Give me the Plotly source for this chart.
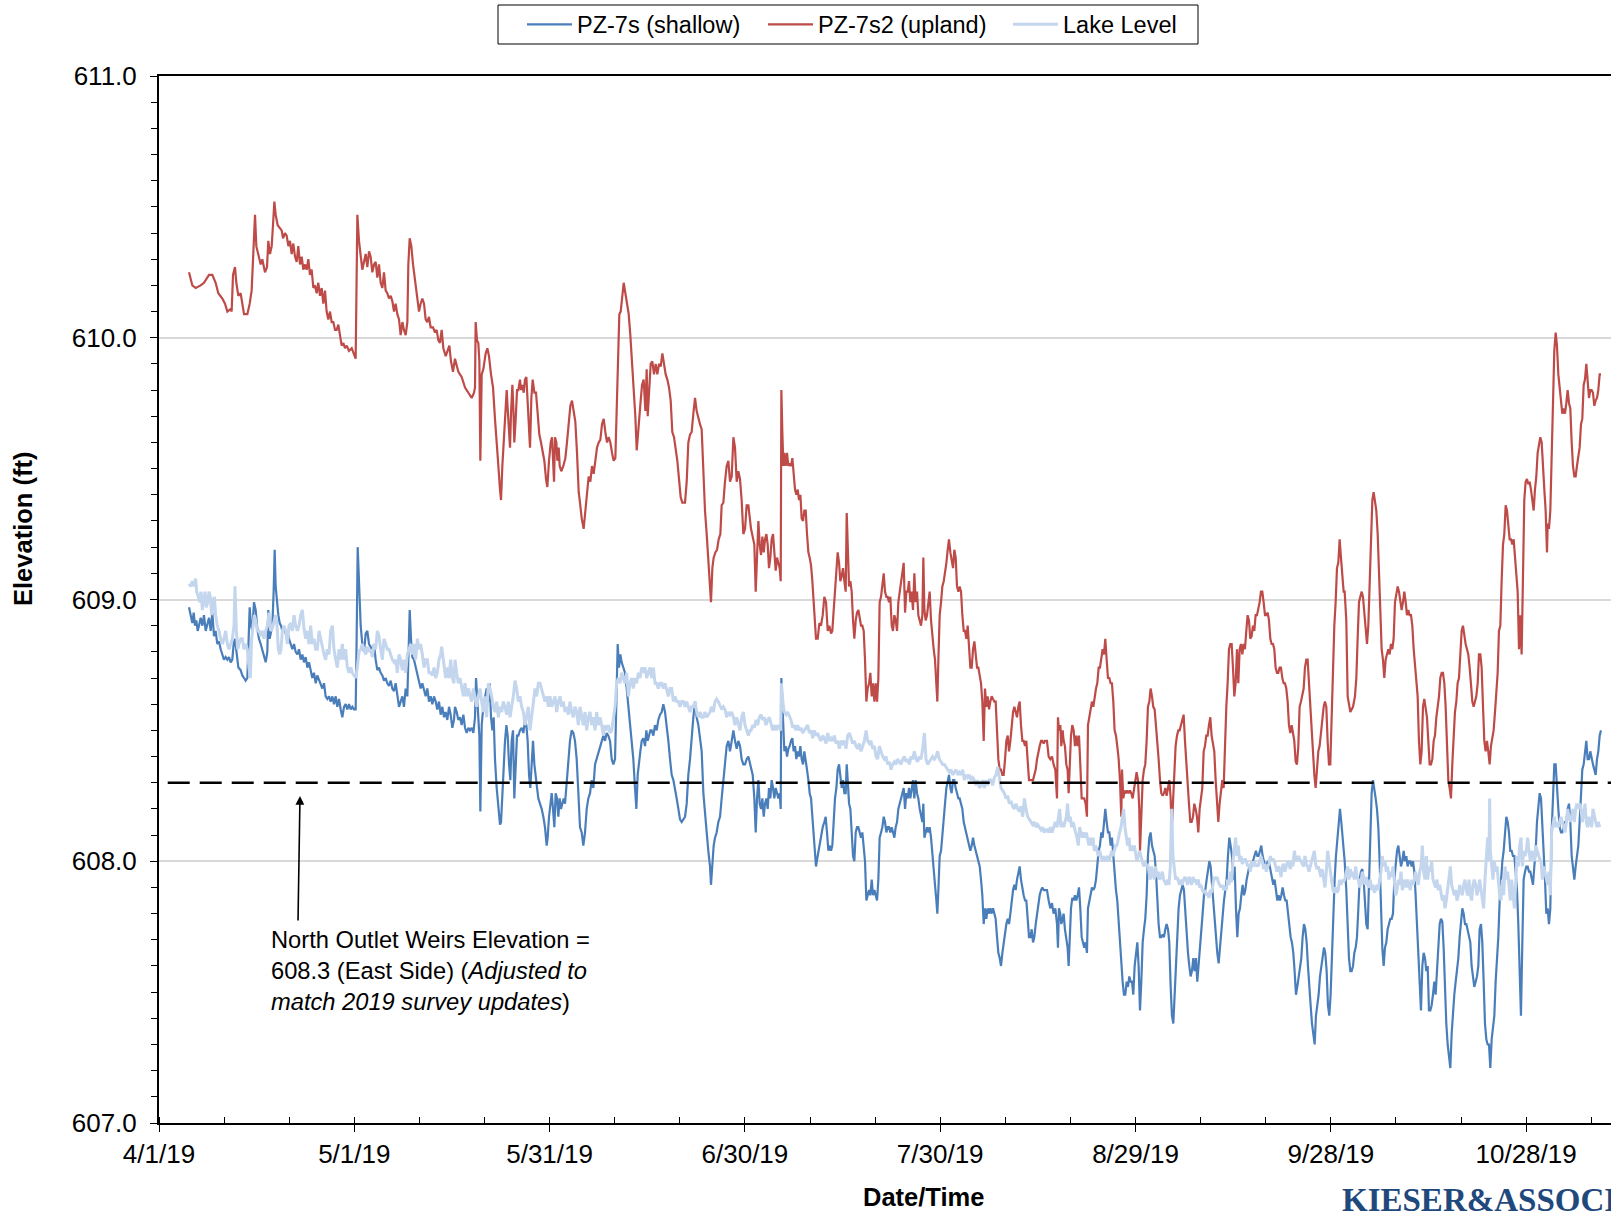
import pandas as pd
import plotly.graph_objects as go

# ---------------- data (days since 4/1/19, elevation ft) ----------------
START = "2019-04-01"

pz7s2_upland = [
(4.61,610.25),(5.12,610.20),(5.63,610.19),(6.40,610.20),(6.91,610.21),(7.68,610.24),(8.19,610.24),(8.70,610.21),(9.11,610.17),(9.73,610.15),(10.14,610.13),(10.50,610.10),(11.01,610.11),(11.16,610.10),(11.37,610.24),(11.67,610.27),(11.88,610.21),(12.19,610.16),(12.54,610.17),(13.06,610.09),(13.57,610.09),(13.93,610.13),(14.23,610.18),(14.49,610.30),(14.75,610.47),(14.95,610.35),(15.36,610.31),(15.62,610.28),(15.87,610.30),(16.28,610.25),(16.59,610.27),(16.79,610.37),(17.05,610.32),(17.31,610.35),(17.51,610.43),(17.72,610.52),(17.92,610.47),(18.23,610.43),(18.54,610.42),(18.84,610.41),(19.05,610.38),(19.35,610.40),(19.61,610.39),(19.87,610.35),(20.12,610.37),(20.38,610.32),(20.63,610.36),(20.89,610.31),(21.15,610.29),(21.40,610.35),(21.66,610.28),(21.92,610.31),(22.17,610.26),(22.43,610.28),(22.68,610.26),(22.94,610.30),(23.19,610.24),(23.45,610.26),(23.71,610.19),(23.96,610.20),(24.22,610.17),(24.47,610.21),(24.73,610.16),(24.99,610.19),(25.24,610.13),(25.50,610.18),(25.75,610.10),(26.01,610.07),(26.27,610.10),(26.52,610.06),(26.78,610.06),(27.04,610.03),(27.29,610.03),(27.55,610.05),(27.80,610.01),(28.06,609.97),(28.32,609.98),(28.57,609.96),(28.83,609.97),(29.19,609.95),(29.60,609.96),(29.85,609.94),(30.21,609.92),(30.31,610.13),(30.47,610.47),(30.72,610.37),(30.98,610.30),(31.23,610.26),(31.49,610.29),(31.75,610.32),(32.00,610.27),(32.26,610.33),(32.51,610.31),(32.77,610.25),(33.03,610.28),(33.28,610.29),(33.54,610.23),(33.79,610.28),(34.05,610.21),(34.31,610.19),(34.56,610.25),(34.82,610.18),(35.07,610.17),(35.33,610.15),(35.59,610.16),(35.84,610.14),(36.10,610.10),(36.35,610.13),(36.61,610.09),(36.87,610.07),(37.12,610.01),(37.38,610.06),(37.63,610.03),(37.89,610.01),(38.15,610.06),(38.30,610.28),(38.51,610.38),(38.76,610.35),(39.02,610.28),(39.22,610.24),(39.43,610.21),(39.68,610.17),(39.94,610.10),(40.19,610.13),(40.45,610.15),(40.71,610.13),(40.96,610.07),(41.22,610.06),(41.47,610.08),(41.73,610.04),(42.09,610.04),(42.40,610.02),(42.65,610.03),(42.91,609.99),(43.16,609.98),(43.42,610.03),(43.68,609.96),(44.04,609.93),(44.34,609.95),(44.60,609.97),(44.85,609.91),(45.16,609.87),
(45.47,609.92),(45.98,609.87),(46.49,609.85),(47.01,609.81),(47.52,609.79),(48.03,609.77),(48.39,609.79),(48.54,609.81),(48.64,610.06),(48.85,609.99),(49.05,609.98),(49.21,609.91),(49.36,609.53),(49.57,609.86),(49.82,609.88),(50.18,609.94),(50.44,609.96),(50.69,609.93),(51.00,609.86),(51.31,609.81),(51.61,609.69),(51.87,609.58),(52.13,609.51),(52.38,609.42),(52.54,609.38),(52.74,609.51),(53.05,609.64),(53.25,609.77),(53.41,609.80),(53.56,609.73),(53.77,609.62),(53.92,609.58),(54.07,609.71),(54.28,609.82),(54.43,609.73),(54.58,609.60),(54.79,609.69),(55.00,609.80),(55.20,609.80),(55.45,609.84),(55.61,609.80),(55.81,609.82),(56.02,609.79),(56.22,609.84),(56.43,609.85),(56.58,609.77),(56.79,609.66),(56.99,609.58),(57.20,609.77),(57.40,609.84),(57.66,609.79),(57.91,609.79),(58.17,609.71),(58.42,609.63),(58.68,609.60),(58.94,609.57),(59.19,609.53),(59.45,609.46),(59.65,609.43),(59.91,609.53),(60.17,609.60),(60.37,609.62),(60.52,609.52),(60.68,609.45),(60.83,609.62),(61.04,609.60),(61.19,609.53),(61.40,609.58),(61.55,609.51),(61.80,609.49),(62.11,609.51),(62.42,609.54),(62.67,609.60),(62.93,609.68),(63.19,609.74),(63.44,609.76),(63.70,609.72),(63.95,609.68),(64.21,609.56),(64.47,609.41),(64.67,609.37),(64.93,609.31),(65.23,609.27),(65.49,609.34),(65.75,609.42),(66.00,609.47),(66.26,609.45),(66.51,609.51),(66.77,609.48),(67.03,609.53),(67.28,609.58),(67.54,609.60),(67.79,609.61),(68.05,609.67),(68.31,609.69),(68.56,609.64),(68.82,609.60),(69.07,609.62),(69.33,609.60),(69.59,609.56),(69.84,609.53),(70.10,609.54),(70.30,609.73),(70.51,609.91),(70.71,610.09),(70.92,610.10),(71.12,610.16),(71.38,610.21),(71.64,610.17),(71.89,610.13),(72.15,610.09),(72.40,610.01),(72.66,609.91),(72.91,609.81),(73.17,609.70),(73.38,609.57),(73.58,609.64),(73.79,609.73),(73.99,609.76),(74.20,609.82),(74.45,609.84),(74.71,609.72),(74.91,609.88),(75.07,609.70),(75.27,609.77),(75.53,609.90),(75.78,609.91),(76.04,609.86),(76.29,609.90),(76.55,609.86),(76.81,609.90),(77.06,609.89),(77.32,609.94),(77.57,609.90),(77.83,609.86),(78.09,609.84),(78.34,609.81),(78.60,609.76),(78.85,609.64),(79.11,609.62),(79.37,609.58),(79.62,609.53),(79.88,609.46),(80.14,609.39),(80.39,609.37),(80.80,609.37),(81.06,609.45),(81.31,609.60),(81.57,609.63),(81.82,609.64),(82.08,609.71),(82.34,609.77),(82.59,609.72),(82.85,609.69),(83.10,609.67),(83.36,609.65),(83.62,609.47),(83.87,609.34),(84.13,609.25),(84.38,609.14),(84.59,609.07),(84.79,608.99),(85.00,609.12),(85.20,609.16),(85.46,609.18),(85.72,609.19),(85.97,609.23),(86.23,609.25),(86.43,609.36),(86.69,609.37),(86.94,609.45),(87.20,609.51),(87.46,609.53),(87.71,609.45),(87.97,609.47),(88.23,609.62),(88.48,609.58),(88.74,609.45),(88.99,609.49),(89.25,609.46),(89.50,609.38),(89.76,609.25),(90.02,609.27),(90.27,609.36),(90.53,609.36),(90.78,609.29),
(90.94,609.27),(91.45,609.21),(91.66,609.03),(91.86,609.16),(92.07,609.30),(92.27,609.21),(92.48,609.17),(92.68,609.24),(92.89,609.18),(93.09,609.23),(93.30,609.25),(93.50,609.21),(93.70,609.12),(93.91,609.16),(94.11,609.23),(94.32,609.25),(94.52,609.16),(94.73,609.11),(94.93,609.16),(95.14,609.14),(95.34,609.12),(95.50,609.07),(95.60,609.80),(95.75,609.64),(95.91,609.51),(96.06,609.56),(96.27,609.51),(96.47,609.56),(96.67,609.51),(96.88,609.52),(97.08,609.51),(97.29,609.54),(97.49,609.49),(97.70,609.42),(97.90,609.40),(98.11,609.42),(98.31,609.38),(98.52,609.40),(98.72,609.31),(98.93,609.30),(99.13,609.34),(99.34,609.34),(99.54,609.25),(99.75,609.18),(99.95,609.16),(100.16,609.13),(100.36,609.07),(100.57,608.99),(100.77,608.90),(100.92,608.85),(101.18,608.85),(101.44,608.91),(101.69,608.90),(101.95,608.94),(102.20,609.01),(102.46,608.99),(102.72,608.88),(102.97,608.90),(103.23,608.87),(103.43,608.88),(103.64,608.96),(103.84,609.03),(104.05,609.07),(104.25,609.18),(104.46,609.14),(104.66,609.07),(104.87,609.09),(105.07,609.12),(105.28,609.07),(105.48,609.03),(105.64,609.33),(105.79,609.18),(106.00,609.05),(106.20,609.07),(106.40,609.03),(106.61,608.92),(106.81,608.85),(107.02,608.92),(107.22,608.95),(107.43,608.96),(107.63,608.92),(107.84,608.90),(108.04,608.90),(108.25,608.88),(108.45,608.77),(108.66,608.61),(108.86,608.66),(109.07,608.68),(109.27,608.72),(109.48,608.63),(109.68,608.68),(109.89,608.61),(110.09,608.68),(110.30,608.61),(110.50,608.70),(110.70,608.99),(110.91,609.01),(111.11,609.05),(111.32,609.10),(111.52,609.03),(111.73,609.01),(111.93,609.01),(112.14,608.99),(112.34,609.01),(112.55,608.90),(112.75,608.88),(112.96,608.94),(113.16,608.92),(113.37,608.88),(113.57,608.99),(113.78,609.03),(113.98,609.07),(114.19,609.10),(114.39,609.14),(114.60,608.95),(114.80,609.03),(115.01,609.03),(115.21,609.07),(115.41,608.99),(115.62,609.03),(115.82,608.96),(116.03,609.10),(116.23,608.99),(116.44,609.03),(116.64,608.94),(116.85,608.92),(117.05,608.90),(117.26,608.94),(117.41,609.16),(117.57,608.96),(117.77,608.92),(117.97,608.94),(118.18,608.99),(118.38,609.03),(118.59,608.92),(118.79,608.85),(119.00,608.81),(119.20,608.77),(119.41,608.68),(119.56,608.61),(119.72,608.77),(119.92,608.94),(120.13,608.99),(120.33,609.05),(120.54,609.07),(120.74,609.10),(120.95,609.14),(121.15,609.19),(121.35,609.23),(121.56,609.18),(121.76,609.14),(121.97,609.12),(122.17,609.19),(122.38,609.16),(122.58,609.05),(122.79,609.03),(122.99,609.05),(123.20,609.03),(123.40,608.94),(123.61,608.88),(123.81,608.88),(124.02,608.85),(124.22,608.90),(124.43,608.83),(124.63,608.74),(124.84,608.74),(125.04,608.81),(125.25,608.84),(125.45,608.79),(125.66,608.74),(125.86,608.74),(126.07,608.71),(126.27,608.68),(126.47,608.61),(126.68,608.46),(126.88,608.66),(127.09,608.59),(127.29,608.63),(127.50,608.58),(127.70,608.61),(127.91,608.63),(128.11,608.62),(128.32,608.61),(128.52,608.61),(128.73,608.46),(128.93,608.39),(129.14,608.35),(129.34,608.35),(129.55,608.33),(129.75,608.33),(129.96,608.39),(130.16,608.46),(130.37,608.48),(130.57,608.42),(130.78,608.46),(130.98,608.52),(131.19,608.57),(131.39,608.59),(131.59,608.57),(131.80,608.55),(132.00,608.59),(132.21,608.61),(132.41,608.52),(132.62,608.46),(132.82,608.46),(133.03,608.44),(133.23,608.46),(133.44,608.37),(133.64,608.31),(133.85,608.31),(134.05,608.31),(134.26,608.31),(134.46,608.33),(134.67,608.35),(134.87,608.39),(135.08,608.42),(135.28,608.44),(135.49,608.46),(135.69,608.46),(135.90,608.45),(136.10,608.46),
(136.40,608.46),(136.66,608.40),(136.91,608.39),(137.17,608.40),(137.42,608.37),(137.68,608.35),(137.94,608.24),(138.09,608.55),(138.24,608.50),(138.45,608.52),(138.60,608.44),(138.81,608.50),(138.96,608.46),(139.16,608.44),(139.37,608.37),(139.57,608.35),(139.73,608.26),(139.88,608.39),(140.09,608.48),(140.29,608.52),(140.50,608.50),(140.70,608.44),(140.91,608.48),(141.11,608.44),(141.32,608.48),(141.52,608.37),(141.73,608.24),(141.93,608.24),(142.13,608.24),(142.34,608.22),(142.54,608.17),(142.70,608.52),(142.90,608.55),(143.11,608.57),(143.31,608.61),(143.52,608.59),(143.72,608.63),(143.93,608.66),(144.13,608.68),(144.34,608.74),(144.54,608.74),(144.75,608.77),(144.95,608.81),(145.16,608.79),(145.36,608.85),(145.57,608.77),(145.77,608.70),(145.98,608.70),(146.18,608.68),(146.38,608.68),(146.59,608.61),(146.79,608.50),(147.00,608.48),(147.20,608.44),(147.41,608.39),(147.61,608.31),(147.82,608.17),(147.92,608.35),(148.13,608.24),(148.33,608.27),(148.54,608.26),(148.74,608.27),(148.94,608.26),(149.15,608.27),(149.35,608.26),(149.56,608.24),(149.76,608.28),(149.97,608.32),(150.17,608.34),(150.38,608.31),(150.58,608.20),(150.69,608.04),(150.89,608.17),(151.10,608.31),(151.30,608.35),(151.50,608.37),(151.71,608.46),(151.91,608.59),(152.12,608.61),(152.32,608.66),(152.53,608.63),(152.73,608.59),(152.94,608.58),(153.14,608.52),(153.35,608.48),(153.55,608.39),(153.76,608.31),(153.96,608.26),(154.17,608.25),(154.37,608.26),(154.58,608.28),(154.78,608.25),(154.99,608.28),(155.19,608.31),(155.40,608.24),(155.55,608.11),(155.75,608.22),(155.96,608.37),(156.16,608.44),(156.37,608.48),(156.57,608.50),(156.78,608.50),(156.98,608.52),(157.19,608.55),(157.39,608.56),(157.60,608.46),(157.80,608.37),(158.01,608.31),(158.21,608.22),(158.42,608.15),(158.62,608.15),(158.83,608.17),(159.03,608.22),(159.24,608.20),(159.44,608.17),(159.65,608.11),(159.85,608.20),(160.06,608.24),(160.26,608.28),(160.47,608.42),(160.67,608.44),(160.87,608.48),(161.08,608.48),(161.28,608.52),(161.49,608.55),(161.69,608.48),(161.90,608.44),(162.10,608.42),(162.31,608.31),(162.51,608.24),(162.72,608.15),(162.92,608.22),(163.13,608.26),(163.33,608.31),(163.54,608.28),(163.74,608.46),(163.95,608.59),(164.15,608.68),(164.36,608.81),(164.56,608.83),(164.77,608.83),(164.97,608.74),(165.18,608.63),(165.38,608.68),(165.59,608.81),(165.79,608.68),(166.00,608.81),(166.20,608.83),(166.41,608.79),(166.61,608.83),(166.81,608.81),(167.02,608.88),(167.22,608.94),(167.43,608.92),(167.63,608.85),(167.84,608.86),(168.04,608.90),(168.25,608.88),(168.45,608.94),(168.66,608.94),(168.86,608.96),(169.07,608.99),(169.27,609.03),(169.48,609.03),(169.68,608.99),(169.89,608.94),(170.09,608.94),(170.30,608.95),(170.50,608.92),(170.71,608.85),(170.91,608.83),(171.12,608.83),(171.32,608.81),(171.52,608.74),(171.73,608.72),(171.93,608.72),(172.14,608.74),(172.34,608.74),(172.55,608.70),(172.75,608.68),(172.96,608.68),(173.16,608.66),(173.37,608.61),(173.57,608.52),(173.78,608.49),(173.98,608.52),(174.19,608.49),(174.39,608.46),(174.60,608.38),(174.80,608.37),(175.01,608.44),(175.21,608.59),(175.42,608.61),(175.62,608.63),(175.83,608.66),(176.03,608.74),(176.24,608.77),(176.44,608.77),(176.65,608.68),(176.85,608.55),(177.06,608.48),(177.26,608.42),(177.47,608.33),(177.67,608.28),(177.88,608.37),(178.08,608.42),(178.28,608.44),(178.49,608.50),(178.69,608.55),(178.90,608.59),(179.10,608.61),(179.31,608.59),(179.51,608.46),(179.72,608.37),(179.92,608.37),(180.13,608.55),(180.33,608.77),(180.54,608.90),(180.74,608.99),(180.95,609.12),(181.15,609.14),(181.36,609.23),(181.56,609.16),(181.77,609.07),(181.97,609.03),
(182.13,609.03),(182.38,608.92),(182.59,608.63),(182.79,608.59),(183.00,608.57),(183.20,608.58),(183.41,608.59),(183.71,608.63),(183.92,608.70),(184.12,608.85),(184.33,608.99),(184.53,609.01),(184.74,609.03),(184.94,609.01),(185.15,608.94),(185.35,608.90),(185.56,608.83),(185.76,608.90),(185.97,609.07),(186.17,609.25),(186.38,609.38),(186.58,609.41),(186.79,609.38),(186.99,609.34),(187.20,609.25),(187.40,609.12),(187.60,608.94),(187.81,608.81),(188.01,608.77),(188.22,608.70),(188.42,608.77),(188.63,608.79),(188.83,608.81),(189.04,608.79),(189.24,608.83),(189.45,608.81),(189.65,608.85),(189.86,608.99),(190.06,609.03),(190.27,609.05),(190.47,609.03),(190.68,608.99),(190.88,608.96),(191.09,608.99),(191.29,609.03),(191.50,608.99),(191.70,608.94),(191.91,608.96),(192.11,608.94),(192.32,608.94),(192.52,608.90),(192.73,608.81),(192.93,608.74),(193.13,608.68),(193.34,608.63),(193.54,608.46),(193.75,608.37),(193.95,608.42),(194.16,608.59),(194.36,608.62),(194.57,608.57),(194.77,608.55),(194.98,608.46),(195.18,608.37),(195.39,608.37),(195.59,608.39),(195.80,608.46),(196.00,608.48),(196.21,608.55),(196.41,608.59),(196.62,608.63),(196.82,608.70),(197.03,608.72),(197.23,608.72),(197.44,608.68),(197.64,608.59),(197.85,608.46),(198.05,608.31),(198.25,608.28),(198.46,608.24),(198.66,608.37),(198.87,608.48),(199.07,608.57),(199.28,608.61),(199.48,608.68),(199.69,608.70),(199.89,608.79),(200.10,608.88),(200.30,608.90),(200.51,608.85),(200.71,608.83),(200.92,608.81),(201.12,608.79),(201.33,608.74),(201.53,608.68),(201.74,608.61),(201.94,608.59),(202.15,608.61),(202.35,608.63),(202.56,608.68),(202.76,608.79),(202.97,608.79),(203.17,608.74),(203.38,608.59),(203.58,608.46),(203.78,608.42),(203.99,608.46),(204.19,608.42),(204.40,608.37),(204.60,608.44),(204.81,608.48),(205.01,608.50),(205.22,608.57),(205.42,608.63),(205.63,608.72),(205.83,608.88),(206.04,608.90),(206.24,609.07),(206.45,609.21),(206.65,609.25),(206.86,609.36),(207.06,609.34),(207.27,609.29),(207.47,609.23),(207.68,609.23),(207.88,609.21),(208.09,609.23),(208.29,609.16),(208.50,609.07),(208.70,609.03),(208.91,608.81),(209.11,608.94),(209.31,608.79),(209.52,609.14),(209.72,609.38),(209.93,609.45),(210.13,609.46),(210.34,609.44),(210.54,609.45),(210.75,609.42),(210.95,609.37),(211.16,609.34),(211.36,609.42),(211.57,609.47),(211.77,609.56),(211.98,609.60),(212.18,609.62),(212.39,609.60),(212.59,609.53),(212.80,609.42),(213.00,609.34),(213.21,609.18),(213.31,609.29),(213.51,609.27),(213.72,609.34),(213.92,609.53),(214.13,609.80),(214.33,609.95),(214.54,610.02),(214.74,609.97),(214.95,609.86),(215.15,609.80),(215.36,609.75),(215.56,609.71),(215.77,609.73),(215.97,609.71),(216.18,609.75),(216.38,609.80),(216.59,609.75),(216.79,609.73),(217.00,609.60),(217.20,609.51),(217.41,609.47),(217.61,609.47),(217.81,609.51),(218.02,609.56),(218.22,609.58),(218.43,609.67),(218.63,609.69),(218.84,609.82),(219.04,609.84),(219.25,609.90),(219.45,609.84),(219.66,609.77),(219.86,609.80),(220.07,609.80),(220.27,609.79),(220.48,609.74),(220.68,609.76),(220.89,609.77),(221.09,609.80),(221.30,609.86),(221.50,609.86),
]

pz7s_shallow = [
(4.61,608.97),(4.86,608.94),(5.12,608.91),(5.33,608.95),(5.53,608.90),(5.73,608.92),(5.94,608.88),(6.14,608.90),(6.40,608.93),(6.66,608.90),(6.91,608.94),(7.17,608.88),(7.42,608.90),(7.68,608.93),(7.94,608.88),(8.19,608.95),(8.45,608.86),(8.70,608.88),(8.96,608.83),(9.22,608.84),(9.47,608.81),(9.73,608.79),(9.98,608.77),(10.24,608.78),(10.50,608.77),(10.75,608.78),(11.01,608.76),(11.26,608.77),(11.47,608.83),(11.67,608.85),(11.88,608.81),(12.19,608.74),(12.54,608.73),(12.80,608.71),(13.06,608.70),(13.31,608.69),(13.57,608.70),(13.72,608.85),(13.93,608.97),(14.13,608.90),(14.34,608.88),(14.59,608.99),(14.85,608.96),(15.10,608.89),(15.36,608.85),(15.62,608.83),(15.87,608.81),(16.13,608.78),(16.39,608.76),(16.64,608.80),(16.79,608.96),(17.00,608.85),(17.20,608.87),(17.41,608.90),(17.61,609.03),(17.77,609.19),(17.92,609.05),(18.13,608.99),(18.33,608.94),(18.54,608.91),(18.74,608.90),(18.95,608.88),(19.20,608.89),(19.46,608.87),(19.71,608.88),(19.97,608.85),(20.23,608.83),(20.48,608.81),(20.74,608.83),(20.99,608.80),(21.25,608.79),(21.51,608.81),(21.76,608.77),(22.02,608.79),(22.27,608.76),(22.53,608.78),(22.79,608.74),(23.04,608.76),(23.30,608.73),(23.55,608.70),(23.81,608.72),(24.07,608.68),(24.32,608.71),(24.58,608.69),(24.83,608.68),(25.09,608.66),(25.35,608.68),(25.60,608.63),(25.86,608.62),(26.11,608.63),(26.37,608.61),(26.63,608.63),(26.88,608.60),(27.14,608.63),(27.39,608.59),(27.65,608.62),(27.91,608.58),(28.16,608.55),(28.42,608.59),(28.67,608.60),(28.93,608.58),(29.19,608.60),(29.44,608.58),(29.70,608.59),(29.95,608.58),(30.21,608.58),(30.36,608.85),(30.52,609.20),(30.72,609.07),(30.98,608.90),(31.23,608.83),(31.49,608.80),(31.75,608.87),(32.00,608.88),(32.26,608.83),(32.51,608.82),(32.77,608.80),(33.03,608.83),(33.28,608.77),(33.54,608.73),(33.79,608.74),(34.05,608.72),(34.31,608.71),(34.56,608.69),(34.82,608.70),(35.07,608.68),(35.33,608.67),(35.59,608.69),(35.84,608.66),(36.10,608.65),(36.35,608.68),(36.61,608.63),(36.87,608.59),(37.12,608.61),(37.38,608.63),(37.63,608.59),(37.89,608.66),(38.15,608.63),(38.30,608.81),(38.51,608.96),(38.71,608.85),(38.91,608.78),(39.17,608.77),(39.43,608.74),(39.68,608.71),(39.94,608.68),(40.19,608.66),(40.45,608.68),(40.71,608.65),(40.96,608.63),(41.22,608.66),(41.47,608.61),(41.73,608.63),(41.99,608.60),(42.24,608.63),(42.50,608.61),(42.75,608.58),(43.01,608.61),(43.27,608.56),(43.52,608.59),(43.78,608.55),(44.03,608.57),(44.29,608.54),(44.55,608.59),(44.80,608.56),(45.06,608.51),(45.31,608.54),
(45.47,608.59),(45.73,608.57),(45.98,608.54),(46.24,608.55),(46.49,608.52),(46.75,608.56),(47.01,608.51),(47.26,608.49),(47.52,608.51),(47.77,608.50),(48.03,608.51),(48.29,608.49),(48.54,608.55),(48.70,608.70),(48.85,608.63),(49.05,608.59),(49.21,608.48),(49.36,608.19),(49.57,608.52),(49.82,608.59),(50.08,608.63),(50.33,608.66),(50.59,608.61),(50.80,608.68),(51.00,608.55),(51.21,608.50),(51.41,608.55),(51.61,608.39),(51.87,608.28),(52.13,608.20),(52.38,608.14),(52.54,608.15),(52.74,608.26),(52.95,608.39),(53.15,608.46),(53.36,608.52),(53.56,608.48),(53.77,608.37),(53.97,608.31),(54.17,608.46),(54.38,608.50),(54.58,608.24),(54.79,608.35),(54.99,608.48),(55.20,608.48),(55.45,608.50),(55.71,608.51),(55.97,608.49),(56.22,608.54),(56.43,608.52),(56.63,608.46),(56.84,608.33),(57.04,608.28),(57.25,608.39),(57.45,608.46),(57.66,608.37),(57.86,608.31),(58.07,608.28),(58.27,608.24),(58.53,608.22),(58.78,608.20),(59.04,608.17),(59.29,608.13),(59.55,608.06),(59.70,608.09),(59.91,608.17),(60.11,608.22),(60.32,608.26),(60.52,608.20),(60.73,608.13),(60.93,608.26),(61.14,608.24),(61.34,608.17),(61.55,608.24),(61.75,608.20),(61.96,608.22),(62.16,608.24),(62.37,608.22),(62.62,608.31),(62.88,608.37),(63.13,608.46),(63.39,608.50),(63.65,608.49),(63.90,608.46),(64.16,608.39),(64.42,608.26),(64.67,608.13),(64.93,608.11),(65.18,608.06),(65.44,608.11),(65.70,608.20),(65.95,608.24),(66.21,608.26),(66.46,608.31),(66.72,608.28),(66.98,608.37),(67.23,608.39),(67.49,608.42),(67.74,608.44),(68.00,608.46),(68.26,608.48),(68.51,608.46),(68.77,608.49),(69.02,608.48),(69.28,608.46),(69.54,608.39),(69.79,608.37),(70.05,608.39),(70.25,608.63),(70.46,608.83),(70.66,608.74),(70.87,608.79),(71.07,608.76),(71.33,608.74),(71.58,608.72),(71.84,608.66),(72.10,608.59),(72.35,608.55),(72.61,608.48),(72.86,608.39),(73.12,608.28),(73.33,608.20),(73.53,608.33),(73.74,608.39),(73.94,608.42),(74.15,608.46),(74.40,608.47),(74.66,608.44),(74.86,608.50),(75.07,608.46),(75.27,608.48),(75.48,608.50),(75.68,608.50),(75.94,608.48),(76.19,608.52),(76.45,608.50),(76.70,608.54),(76.96,608.56),(77.22,608.57),(77.47,608.60),(77.73,608.57),(77.98,608.52),(78.24,608.46),(78.50,608.39),(78.75,608.33),(79.01,608.31),(79.26,608.28),(79.52,608.24),(79.78,608.20),(80.03,608.16),(80.29,608.15),(80.54,608.16),(80.80,608.17),(81.06,608.22),(81.31,608.33),(81.57,608.39),(81.82,608.48),(82.08,608.55),(82.34,608.61),(82.59,608.55),(82.85,608.52),(83.10,608.48),(83.36,608.42),(83.62,608.26),(83.87,608.17),(84.13,608.11),(84.38,608.04),(84.64,607.98),(84.79,607.91),(85.00,608.00),(85.20,608.06),(85.41,608.09),(85.66,608.11),(85.92,608.15),(86.18,608.17),(86.43,608.24),(86.69,608.31),(86.94,608.37),(87.20,608.44),(87.46,608.46),(87.71,608.42),(87.97,608.46),(88.23,608.50),(88.48,608.46),(88.74,608.43),(88.99,608.46),(89.25,608.44),(89.50,608.39),(89.76,608.37),(90.02,608.37),(90.27,608.39),(90.53,608.40),(90.78,608.37),
(90.94,608.35),(91.20,608.33),(91.45,608.24),(91.66,608.11),(91.86,608.24),(92.07,608.31),(92.27,608.22),(92.48,608.20),(92.68,608.24),(92.89,608.17),(93.09,608.22),(93.30,608.24),(93.50,608.20),(93.70,608.28),(93.91,608.24),(94.11,608.31),(94.32,608.28),(94.52,608.24),(94.73,608.28),(94.93,608.26),(95.14,608.24),(95.34,608.26),(95.50,608.20),(95.60,608.70),(95.75,608.59),(95.91,608.46),(96.06,608.42),(96.27,608.44),(96.47,608.40),(96.67,608.43),(96.88,608.44),(97.08,608.46),(97.29,608.47),(97.49,608.42),(97.70,608.44),(97.90,608.39),(98.11,608.42),(98.31,608.40),(98.52,608.44),(98.72,608.39),(98.93,608.37),(99.13,608.42),(99.34,608.39),(99.54,608.35),(99.75,608.31),(99.95,608.26),(100.16,608.24),(100.36,608.17),(100.57,608.09),(100.77,608.02),(100.92,607.98),(101.18,608.02),(101.44,608.06),(101.69,608.09),(101.95,608.13),(102.20,608.15),(102.41,608.17),(102.61,608.11),(102.82,608.04),(103.02,608.06),(103.23,608.04),(103.43,608.06),(103.64,608.15),(103.84,608.24),(104.05,608.28),(104.25,608.35),(104.46,608.37),(104.66,608.33),(104.87,608.28),(105.07,608.31),(105.28,608.26),(105.48,608.26),(105.64,608.37),(105.79,608.31),(106.00,608.22),(106.20,608.20),(106.40,608.13),(106.61,608.02),(106.81,608.00),(107.02,608.11),(107.22,608.13),(107.43,608.13),(107.63,608.11),(107.84,608.09),(108.04,608.11),(108.25,608.06),(108.45,608.00),(108.66,607.85),(108.86,607.87),(109.07,607.89),(109.27,607.87),(109.48,607.93),(109.68,607.87),(109.89,607.89),(110.09,607.87),(110.30,607.85),(110.50,607.93),(110.70,608.09),(110.91,608.11),(111.11,608.13),(111.32,608.17),(111.52,608.15),(111.73,608.11),(111.93,608.13),(112.14,608.13),(112.34,608.11),(112.55,608.13),(112.75,608.11),(112.96,608.09),(113.16,608.13),(113.37,608.15),(113.57,608.20),(113.78,608.22),(113.98,608.24),(114.19,608.26),(114.39,608.28),(114.60,608.20),(114.80,608.26),(115.01,608.24),(115.21,608.28),(115.41,608.24),(115.62,608.28),(115.82,608.31),(116.03,608.24),(116.23,608.31),(116.44,608.26),(116.64,608.24),(116.85,608.20),(117.05,608.17),(117.26,608.15),(117.41,608.22),(117.57,608.09),(117.77,608.11),(117.97,608.13),(118.18,608.11),(118.38,608.13),(118.59,608.09),(118.79,608.04),(119.00,607.98),(119.20,607.91),(119.41,607.85),(119.56,607.80),(119.72,607.89),(119.92,608.02),(120.13,608.04),(120.33,608.09),(120.54,608.15),(120.74,608.22),(120.95,608.28),(121.15,608.31),(121.35,608.33),(121.56,608.28),(121.76,608.26),(121.97,608.31),(122.17,608.31),(122.38,608.28),(122.58,608.26),(122.79,608.24),(122.99,608.24),(123.20,608.22),(123.40,608.20),(123.61,608.15),(123.81,608.13),(124.02,608.11),(124.22,608.09),(124.43,608.06),(124.63,608.04),(124.84,608.06),(125.04,608.09),(125.25,608.06),(125.45,608.04),(125.66,608.02),(125.86,608.00),(126.07,607.98),(126.27,607.93),(126.47,607.87),(126.68,607.76),(126.88,607.82),(127.09,607.78),(127.29,607.82),(127.50,607.80),(127.70,607.82),(127.91,607.80),(128.11,607.82),(128.32,607.80),(128.52,607.78),(128.73,607.71),(128.93,607.65),(129.14,607.63),(129.34,607.60),(129.55,607.65),(129.75,607.69),(129.96,607.74),(130.16,607.76),(130.37,607.78),(130.57,607.76),(130.78,607.80),(130.98,607.85),(131.19,607.89),(131.39,607.91),(131.59,607.89),(131.80,607.93),(132.00,607.95),(132.21,607.98),(132.41,607.93),(132.62,607.89),(132.82,607.87),(133.03,607.85),(133.23,607.85),(133.44,607.78),(133.64,607.71),(133.85,607.71),(134.05,607.74),(134.26,607.69),(134.46,607.71),(134.67,607.76),(134.87,607.80),(135.08,607.85),(135.28,607.87),(135.49,607.89),(135.69,607.90),(135.90,607.89),(136.10,607.89),
(136.40,607.89),(136.66,607.85),(136.91,607.82),(137.17,607.84),(137.42,607.80),(137.68,607.82),(137.94,607.76),(138.09,607.67),(138.24,607.82),(138.45,607.80),(138.60,607.76),(138.81,607.78),(138.96,607.80),(139.16,607.74),(139.37,607.71),(139.57,607.67),(139.73,607.60),(139.88,607.71),(140.09,607.82),(140.29,607.86),(140.50,607.85),(140.70,607.87),(140.91,607.85),(141.11,607.87),(141.32,607.90),(141.52,607.82),(141.73,607.71),(141.93,607.69),(142.13,607.67),(142.34,607.69),(142.54,607.65),(142.70,607.82),(142.90,607.85),(143.11,607.87),(143.31,607.90),(143.52,607.89),(143.72,607.90),(143.93,607.93),(144.13,607.98),(144.34,608.04),(144.54,608.06),(144.75,608.11),(144.95,608.09),(145.16,608.15),(145.36,608.20),(145.57,608.15),(145.77,608.11),(145.98,608.11),(146.18,608.06),(146.38,608.09),(146.59,608.02),(146.79,607.93),(147.00,607.89),(147.20,607.85),(147.41,607.76),(147.61,607.67),(147.82,607.58),(148.02,607.54),(148.23,607.49),(148.43,607.49),(148.64,607.54),(148.84,607.52),(149.05,607.56),(149.25,607.54),(149.46,607.54),(149.66,607.49),(149.87,607.60),(150.07,607.65),(150.28,607.69),(150.48,607.60),(150.69,607.43),(150.89,607.54),(151.10,607.69),(151.30,607.74),(151.50,607.78),(151.71,607.87),(151.91,608.02),(152.12,608.09),(152.32,608.11),(152.53,608.06),(152.73,608.04),(152.94,608.02),(153.14,607.96),(153.35,607.85),(153.55,607.76),(153.76,607.71),(153.96,607.71),(154.17,607.72),(154.37,607.71),(154.58,607.74),(154.78,607.76),(154.99,607.74),(155.19,607.69),(155.40,607.52),(155.60,607.41),(155.81,607.38),(156.01,607.49),(156.22,607.65),(156.42,607.76),(156.62,607.82),(156.83,607.87),(157.03,607.89),(157.24,607.91),(157.44,607.89),(157.65,607.80),(157.85,607.74),(158.06,607.65),(158.26,607.60),(158.47,607.56),(158.67,607.58),(158.88,607.63),(159.08,607.58),(159.29,607.63),(159.49,607.54),(159.70,607.60),(159.90,607.65),(160.11,607.71),(160.31,607.80),(160.52,607.87),(160.72,607.89),(160.93,607.93),(161.13,607.96),(161.34,608.00),(161.54,607.98),(161.75,607.91),(161.95,607.87),(162.15,607.80),(162.36,607.74),(162.56,607.65),(162.77,607.61),(162.97,607.67),(163.18,607.76),(163.38,607.80),(163.59,607.85),(163.79,607.89),(164.00,607.93),(164.20,608.02),(164.41,608.09),(164.61,608.06),(164.82,608.02),(165.02,607.93),(165.23,607.98),(165.43,607.82),(165.64,607.71),(165.84,607.80),(166.05,607.82),(166.25,607.87),(166.46,607.91),(166.66,607.87),(166.87,607.89),(167.07,607.93),(167.28,607.95),(167.48,607.98),(167.69,607.97),(167.89,607.99),(168.09,608.00),(168.30,608.02),(168.50,608.04),(168.71,608.02),(168.91,608.02),(169.12,608.04),(169.32,608.06),(169.53,608.02),(169.73,608.00),(169.94,607.98),(170.14,607.99),(170.35,608.00),(170.55,607.99),(170.76,607.96),(170.96,607.93),(171.17,607.91),(171.37,607.93),(171.58,607.89),(171.78,607.85),(171.99,607.87),(172.19,607.85),(172.40,607.87),(172.60,607.90),(172.81,607.87),(173.01,607.85),(173.22,607.85),(173.42,607.80),(173.63,607.74),(173.83,607.71),(174.03,607.69),(174.24,607.65),(174.44,607.58),(174.65,607.49),(174.85,607.52),(175.06,607.56),(175.26,607.60),(175.47,607.63),(175.67,607.71),(175.88,607.76),(176.08,607.74),(176.29,607.69),(176.49,607.60),(176.70,607.54),(176.90,607.45),(177.11,607.38),(177.31,607.34),(177.52,607.30),(177.72,607.41),(177.93,607.45),(178.13,607.49),(178.34,607.56),(178.54,607.60),(178.74,607.65),(178.95,607.67),(179.15,607.65),(179.36,607.58),(179.56,607.45),(179.77,607.41),(179.97,607.49),(180.18,607.65),(180.38,607.82),(180.59,607.93),(180.79,608.02),(181.00,608.09),(181.20,608.13),(181.41,608.20),(181.61,608.15),(181.82,608.09),
(182.13,608.00),(182.38,607.89),(182.59,607.71),(182.79,607.63),(183.00,607.58),(183.20,607.58),(183.41,607.60),(183.61,607.65),(183.82,607.67),(184.02,607.71),(184.23,607.82),(184.43,607.93),(184.63,607.96),(184.84,607.97),(185.04,607.93),(185.25,607.85),(185.45,607.76),(185.66,607.74),(185.86,607.93),(186.07,608.15),(186.27,608.26),(186.48,608.31),(186.68,608.28),(186.89,608.24),(187.09,608.20),(187.30,608.13),(187.50,608.00),(187.71,607.82),(187.91,607.67),(188.12,607.60),(188.32,607.67),(188.53,607.69),(188.73,607.74),(188.94,607.76),(189.14,607.78),(189.35,607.78),(189.55,607.80),(189.76,607.93),(189.96,608.00),(190.17,608.04),(190.37,608.06),(190.57,608.02),(190.78,607.98),(190.98,608.00),(191.19,608.04),(191.39,608.00),(191.60,608.02),(191.80,607.98),(192.01,608.00),(192.21,608.00),(192.42,607.98),(192.62,608.00),(192.83,607.96),(193.03,607.87),(193.24,607.76),(193.44,607.60),(193.65,607.49),(193.85,607.43),(194.06,607.60),(194.26,607.65),(194.47,607.63),(194.67,607.58),(194.88,607.60),(195.08,607.43),(195.29,607.43),(195.49,607.45),(195.69,607.49),(195.90,607.54),(196.10,607.49),(196.31,607.58),(196.51,607.67),(196.72,607.76),(196.92,607.78),(197.13,607.77),(197.33,607.67),(197.54,607.49),(197.74,607.38),(197.95,607.30),(198.15,607.25),(198.36,607.21),(198.56,607.34),(198.77,607.43),(198.97,607.49),(199.18,607.54),(199.38,607.58),(199.59,607.63),(199.79,607.71),(200.00,607.78),(200.20,607.82),(200.41,607.80),(200.61,607.76),(200.82,607.76),(201.02,607.74),(201.23,607.71),(201.43,607.69),(201.63,607.60),(201.84,607.56),(202.04,607.52),(202.25,607.54),(202.45,607.56),(202.66,607.60),(202.86,607.74),(203.07,607.76),(203.27,607.69),(203.48,607.54),(203.68,607.38),(203.89,607.32),(204.09,607.30),(204.30,607.30),(204.50,607.21),(204.71,607.32),(204.91,607.36),(205.12,607.41),(205.32,607.54),(205.53,607.63),(205.73,607.71),(205.94,607.85),(206.14,607.93),(206.35,608.00),(206.55,608.04),(206.76,608.13),(206.96,608.17),(207.17,608.15),(207.37,608.11),(207.57,608.04),(207.78,608.04),(207.98,608.02),(208.19,608.02),(208.39,607.96),(208.60,607.89),(208.80,607.76),(209.01,607.54),(209.21,607.41),(209.42,607.69),(209.62,607.93),(209.83,607.96),(210.03,607.98),(210.24,607.98),(210.44,607.96),(210.65,607.96),(210.85,607.93),(211.06,607.91),(211.26,607.98),(211.47,608.04),(211.67,608.15),(211.88,608.22),(212.08,608.26),(212.29,608.24),(212.49,608.15),(212.70,608.04),(212.90,607.93),(213.10,607.80),(213.31,607.82),(213.51,607.76),(213.72,607.82),(213.92,608.11),(214.13,608.28),(214.33,608.37),(214.54,608.37),(214.74,608.26),(214.95,608.20),(215.15,608.13),(215.36,608.11),(215.56,608.11),(215.77,608.13),(215.97,608.15),(216.18,608.15),(216.38,608.20),(216.59,608.22),(216.79,608.15),(217.00,608.02),(217.20,607.96),(217.41,607.93),(217.61,607.98),(217.81,608.02),(218.02,608.06),(218.22,608.15),(218.43,608.24),(218.63,608.35),(218.84,608.37),(219.04,608.42),(219.25,608.46),(219.45,608.39),(219.66,608.39),(219.86,608.42),(220.07,608.39),(220.27,608.37),(220.48,608.35),(220.68,608.33),(220.89,608.39),(221.09,608.42),(221.30,608.48),(221.50,608.50),
]

lake_level = [
(4.61,609.06),(4.86,609.05),(5.12,609.07),(5.38,609.05),(5.63,609.08),(5.79,609.03),(6.04,609.01),(6.25,608.99),(6.45,609.03),(6.66,608.96),(6.86,609.00),(7.07,609.03),(7.27,608.97),(7.48,608.99),(7.68,609.03),(7.89,609.01),(8.09,608.94),(8.29,608.99),(8.50,609.01),(8.70,608.94),(8.96,608.90),(9.22,608.88),(9.47,608.85),(9.73,608.83),(9.98,608.85),(10.24,608.88),(10.50,608.83),(10.75,608.81),(11.01,608.83),(11.26,608.85),(11.52,608.90),(11.67,609.05),(11.88,608.88),(12.08,608.81),(12.29,608.83),(12.54,608.85),(12.80,608.85),(13.06,608.81),(13.31,608.83),(13.57,608.81),(13.82,608.74),(14.03,608.70),(14.23,608.85),(14.44,608.90),(14.64,608.94),(14.85,608.92),(15.10,608.88),(15.36,608.88),(15.62,608.86),(15.87,608.88),(16.13,608.85),(16.39,608.88),(16.64,608.90),(16.90,608.95),(17.15,608.88),(17.41,608.89),(17.66,608.92),(17.92,608.94),(18.13,608.90),(18.33,608.81),(18.54,608.79),(18.74,608.81),(18.95,608.88),(19.20,608.90),(19.46,608.88),(19.71,608.83),(19.97,608.90),(20.23,608.91),(20.48,608.88),(20.74,608.94),(20.99,608.90),(21.25,608.88),(21.51,608.90),(21.76,608.94),(22.02,608.96),(22.27,608.89),(22.53,608.85),(22.79,608.88),(23.04,608.83),(23.30,608.90),(23.55,608.83),(23.81,608.85),(24.07,608.81),(24.32,608.81),(24.58,608.88),(24.83,608.85),(25.09,608.81),(25.35,608.79),(25.60,608.77),(25.86,608.81),(26.11,608.79),(26.37,608.88),(26.63,608.90),(26.88,608.81),(27.14,608.77),(27.39,608.74),(27.65,608.81),(27.91,608.77),(28.16,608.83),(28.42,608.77),(28.67,608.81),(28.93,608.74),(29.19,608.72),(29.44,608.74),(29.70,608.72),(29.95,608.71),(30.21,608.70),(30.47,608.74),(30.72,608.80),(30.98,608.81),(31.23,608.83),(31.49,608.81),(31.75,608.79),(32.00,608.82),(32.26,608.80),(32.51,608.81),(32.77,608.78),(33.03,608.83),(33.28,608.81),(33.54,608.88),(33.79,608.86),(34.05,608.81),(34.31,608.77),(34.56,608.85),(34.82,608.83),(35.07,608.81),(35.33,608.81),(35.59,608.79),(35.84,608.77),(36.10,608.76),(36.35,608.77),(36.61,608.72),(36.87,608.79),(37.12,608.77),(37.38,608.73),(37.63,608.77),(37.89,608.72),(38.15,608.79),(38.40,608.81),(38.66,608.83),(38.91,608.79),(39.17,608.83),(39.43,608.77),(39.68,608.85),(39.94,608.81),(40.19,608.83),(40.45,608.79),(40.71,608.74),(40.96,608.77),(41.22,608.77),(41.47,608.72),(41.73,608.72),(41.99,608.71),(42.24,608.74),(42.50,608.70),(42.75,608.72),(43.01,608.77),(43.27,608.79),(43.42,608.82),(43.63,608.77),(43.83,608.74),(44.03,608.70),(44.29,608.74),(44.55,608.70),(44.80,608.77),(45.06,608.70),(45.31,608.68),
(45.47,608.77),(45.73,608.72),(45.98,608.68),(46.24,608.70),(46.49,608.66),(46.75,608.63),(47.01,608.68),(47.26,608.63),(47.52,608.66),(47.77,608.63),(48.03,608.61),(48.29,608.66),(48.54,608.63),(48.80,608.59),(49.05,608.63),(49.31,608.66),(49.57,608.61),(49.82,608.57),(50.08,608.63),(50.33,608.55),(50.59,608.68),(50.85,608.66),(51.10,608.63),(51.36,608.59),(51.61,608.57),(51.87,608.61),(52.13,608.55),(52.38,608.59),(52.64,608.57),(52.89,608.61),(53.15,608.59),(53.41,608.56),(53.66,608.61),(53.92,608.55),(54.17,608.59),(54.43,608.63),(54.69,608.69),(54.94,608.66),(55.20,608.61),(55.45,608.63),(55.71,608.59),(55.97,608.57),(56.22,608.52),(56.48,608.55),(56.73,608.59),(56.99,608.50),(57.25,608.55),(57.50,608.61),(57.76,608.66),(58.01,608.63),(58.27,608.68),(58.53,608.68),(58.78,608.66),(59.04,608.63),(59.29,608.61),(59.55,608.63),(59.81,608.59),(60.06,608.63),(60.32,608.59),(60.57,608.61),(60.83,608.63),(61.09,608.57),(61.34,608.61),(61.60,608.63),(61.85,608.59),(62.11,608.61),(62.37,608.57),(62.62,608.59),(62.88,608.56),(63.13,608.61),(63.39,608.57),(63.65,608.55),(63.90,608.59),(64.16,608.57),(64.42,608.52),(64.67,608.59),(64.93,608.55),(65.18,608.52),(65.44,608.57),(65.70,608.50),(65.95,608.55),(66.21,608.57),(66.46,608.52),(66.72,608.55),(66.98,608.50),(67.23,608.57),(67.49,608.52),(67.74,608.55),(68.00,608.52),(68.26,608.48),(68.51,608.52),(68.77,608.50),(69.02,608.52),(69.28,608.49),(69.54,608.50),(69.79,608.55),(70.05,608.59),(70.30,608.68),(70.56,608.70),(70.82,608.68),(71.07,608.72),(71.33,608.70),(71.58,608.68),(71.84,608.72),(72.10,608.63),(72.35,608.68),(72.61,608.70),(72.86,608.66),(73.12,608.70),(73.38,608.68),(73.63,608.72),(73.89,608.70),(74.15,608.74),(74.40,608.72),(74.66,608.74),(74.91,608.70),(75.17,608.72),(75.42,608.74),(75.68,608.70),(75.94,608.74),(76.19,608.68),(76.45,608.68),(76.70,608.66),(76.96,608.68),(77.22,608.68),(77.47,608.66),(77.73,608.68),(77.98,608.66),(78.24,608.63),(78.50,608.66),(78.75,608.66),(79.01,608.61),(79.26,608.63),(79.52,608.61),(79.78,608.61),(80.03,608.59),(80.29,608.61),(80.54,608.61),(80.80,608.59),(81.06,608.61),(81.31,608.59),(81.57,608.57),(81.82,608.59),(82.08,608.59),(82.34,608.61),(82.59,608.57),(82.85,608.55),(83.10,608.57),(83.36,608.55),(83.62,608.55),(83.87,608.57),(84.13,608.55),(84.38,608.56),(84.64,608.57),(84.89,608.59),(85.15,608.57),(85.41,608.61),(85.66,608.62),(85.92,608.61),(86.18,608.59),(86.43,608.58),(86.69,608.59),(86.94,608.58),(87.20,608.55),(87.46,608.57),(87.71,608.56),(87.97,608.57),(88.23,608.55),(88.48,608.52),(88.74,608.55),(88.99,608.52),(89.25,608.50),(89.50,608.55),(89.76,608.57),(90.02,608.52),(90.27,608.50),(90.53,608.48),(90.78,608.50),
(90.94,608.50),(91.20,608.52),(91.45,608.51),(91.71,608.54),(91.96,608.52),(92.22,608.55),(92.48,608.56),(92.73,608.54),(92.99,608.55),(93.24,608.52),(93.50,608.54),(93.76,608.55),(94.01,608.52),(94.27,608.50),(94.52,608.52),(94.78,608.50),(95.04,608.52),(95.29,608.51),(95.50,608.50),(95.60,608.68),(95.75,608.63),(95.91,608.59),(96.06,608.57),(96.32,608.56),(96.57,608.57),(96.83,608.55),(97.08,608.54),(97.34,608.51),(97.60,608.52),(97.85,608.50),(98.11,608.52),(98.36,608.50),(98.62,608.51),(98.88,608.49),(99.13,608.50),(99.39,608.51),(99.64,608.52),(99.90,608.49),(100.16,608.50),(100.41,608.47),(100.67,608.50),(100.92,608.48),(101.18,608.49),(101.44,608.47),(101.69,608.46),(101.95,608.48),(102.20,608.47),(102.46,608.45),(102.72,608.49),(102.97,608.46),(103.23,608.47),(103.48,608.46),(103.74,608.48),(103.99,608.45),(104.25,608.46),(104.51,608.43),(104.76,608.46),(105.02,608.45),(105.28,608.46),(105.53,608.43),(105.79,608.48),(106.05,608.49),(106.30,608.47),(106.56,608.45),(106.81,608.46),(107.07,608.44),(107.33,608.43),(107.58,608.45),(107.84,608.42),(108.09,608.44),(108.35,608.46),(108.61,608.50),(108.86,608.46),(109.12,608.45),(109.37,608.46),(109.63,608.43),(109.89,608.44),(110.14,608.40),(110.40,608.39),(110.65,608.44),(110.91,608.42),(111.17,608.40),(111.42,608.39),(111.68,608.40),(111.93,608.37),(112.19,608.38),(112.45,608.35),(112.70,608.37),(112.96,608.38),(113.21,608.37),(113.47,608.39),(113.73,608.38),(113.98,608.37),(114.24,608.39),(114.49,608.40),(114.75,608.38),(115.01,608.39),(115.26,608.37),(115.52,608.40),(115.77,608.39),(116.03,608.42),(116.29,608.39),(116.54,608.38),(116.80,608.40),(117.05,608.39),(117.31,608.43),(117.57,608.49),(117.82,608.39),(118.08,608.37),(118.33,608.38),(118.59,608.39),(118.85,608.40),(119.10,608.39),(119.36,608.40),(119.61,608.42),(119.87,608.39),(120.13,608.38),(120.38,608.37),(120.64,608.37),(120.89,608.36),(121.15,608.35),(121.41,608.34),(121.66,608.35),(121.92,608.33),(122.17,608.34),(122.43,608.35),(122.69,608.33),(122.94,608.34),(123.20,608.33),(123.45,608.35),(123.71,608.31),(123.97,608.33),(124.22,608.32),(124.48,608.33),(124.73,608.31),(124.99,608.32),(125.25,608.31),(125.50,608.29),(125.76,608.31),(126.01,608.28),(126.27,608.29),(126.53,608.31),(126.78,608.28),(127.04,608.31),(127.29,608.29),(127.55,608.31),(127.81,608.31),(128.06,608.29),(128.32,608.32),(128.57,608.33),(128.83,608.36),(129.09,608.31),(129.34,608.28),(129.60,608.27),(129.85,608.26),(130.11,608.24),(130.37,608.25),(130.62,608.22),(130.88,608.23),(131.13,608.21),(131.39,608.20),(131.65,608.22),(131.90,608.20),(132.16,608.19),(132.41,608.21),(132.67,608.17),(132.93,608.24),(133.18,608.20),(133.44,608.17),(133.69,608.16),(133.95,608.15),(134.21,608.14),(134.46,608.15),(134.72,608.13),(134.97,608.14),(135.23,608.13),(135.49,608.12),(135.74,608.13),(136.00,608.11),(136.25,608.12),
(136.40,608.12),(136.66,608.11),(136.91,608.13),(137.17,608.11),(137.42,608.13),(137.68,608.15),(137.94,608.13),(138.19,608.17),(138.35,608.20),(138.55,608.13),(138.76,608.15),(138.96,608.13),(139.16,608.15),(139.37,608.17),(139.57,608.22),(139.78,608.15),(139.98,608.17),(140.19,608.13),(140.39,608.15),(140.60,608.13),(140.80,608.11),(141.01,608.09),(141.21,608.06),(141.42,608.13),(141.62,608.11),(141.83,608.09),(142.03,608.11),(142.24,608.09),(142.44,608.11),(142.65,608.09),(142.85,608.06),(143.06,608.09),(143.26,608.06),(143.47,608.09),(143.67,608.04),(143.88,608.06),(144.08,608.04),(144.29,608.02),(144.49,608.04),(144.69,608.02),(144.90,608.00),(145.10,608.02),(145.31,608.00),(145.51,608.01),(145.72,608.02),(145.92,608.00),(146.13,608.02),(146.33,608.04),(146.54,608.02),(146.74,608.04),(146.95,608.06),(147.15,608.06),(147.36,608.09),(147.56,608.11),(147.77,608.13),(147.97,608.17),(148.18,608.20),(148.38,608.13),(148.59,608.09),(148.79,608.06),(149.00,608.09),(149.20,608.04),(149.41,608.06),(149.61,608.04),(149.82,608.06),(150.02,608.02),(150.22,608.00),(150.43,608.02),(150.63,608.04),(150.84,608.02),(151.04,608.00),(151.25,607.98),(151.45,608.00),(151.66,607.98),(151.86,607.99),(152.07,607.96),(152.27,607.93),(152.48,607.98),(152.68,607.96),(152.89,607.93),(153.09,607.98),(153.30,607.94),(153.50,607.96),(153.71,607.93),(153.91,607.94),(154.12,607.96),(154.32,607.93),(154.53,607.92),(154.73,607.91),(154.94,607.93),(155.14,607.91),(155.35,607.98),(155.55,608.20),(155.75,608.02),(155.96,607.96),(156.16,607.93),(156.37,607.94),(156.57,607.92),(156.78,607.91),(156.98,607.93),(157.19,607.91),(157.39,607.93),(157.60,607.94),(157.80,607.93),(158.01,607.91),(158.21,607.94),(158.42,607.93),(158.62,607.91),(158.83,607.94),(159.03,607.92),(159.24,607.93),(159.44,607.91),(159.65,607.93),(159.85,607.90),(160.06,607.91),(160.26,607.89),(160.47,607.88),(160.67,607.89),(160.87,607.87),(161.08,607.88),(161.28,607.86),(161.49,607.89),(161.69,607.88),(161.90,607.91),(162.10,607.94),(162.31,607.93),(162.51,607.94),(162.72,607.92),(162.92,607.91),(163.13,607.90),(163.33,607.91),(163.54,607.89),(163.74,607.90),(163.95,607.89),(164.15,607.93),(164.36,607.91),(164.56,607.96),(164.77,607.92),(164.97,608.00),(165.18,608.06),(165.38,608.09),(165.59,608.02),(165.79,608.06),(166.00,608.00),(166.20,608.02),(166.41,607.99),(166.61,608.00),(166.81,608.01),(167.02,608.00),(167.22,607.98),(167.43,607.99),(167.63,607.96),(167.84,608.00),(168.04,607.98),(168.25,608.00),(168.45,607.98),(168.66,607.99),(168.86,607.98),(169.07,608.00),(169.27,608.02),(169.48,608.00),(169.68,607.97),(169.89,607.99),(170.09,607.96),(170.30,607.98),(170.50,607.99),(170.71,608.02),(170.91,608.00),(171.12,608.01),(171.32,608.00),(171.53,607.98),(171.73,607.96),(171.94,607.98),(172.14,607.97),(172.35,607.94),(172.55,607.98),(172.75,607.99),(172.96,607.96),(173.16,607.98),(173.37,608.00),(173.57,607.99),(173.78,607.97),(173.98,608.00),(174.19,607.98),(174.39,608.04),(174.60,608.01),(174.80,608.00),(175.01,608.02),(175.21,608.01),(175.42,608.00),(175.62,607.99),(175.83,607.98),(176.03,608.02),(176.24,607.99),(176.44,607.98),(176.65,607.96),(176.85,607.98),(177.06,608.00),(177.26,608.02),(177.47,608.04),(177.67,607.99),(177.88,607.97),(178.08,607.98),(178.28,607.96),(178.49,607.94),(178.69,607.97),(178.90,607.93),(179.10,607.90),(179.31,607.96),(179.51,608.04),(179.72,608.00),(179.92,607.96),(180.13,607.93),(180.33,607.89),(180.54,607.88),(180.74,607.90),(180.95,607.88),(181.15,607.89),(181.36,607.93),(181.56,607.91),(181.77,607.93),(181.97,607.92),
(182.13,607.93),(182.38,607.96),(182.59,607.98),(182.79,607.93),(183.00,607.97),(183.20,607.94),(183.41,607.96),(183.61,607.93),(183.82,607.98),(184.02,607.94),(184.23,607.93),(184.43,607.90),(184.63,607.92),(184.84,607.96),(185.04,607.93),(185.25,607.91),(185.45,607.94),(185.66,607.91),(185.86,607.90),(186.07,607.93),(186.27,607.89),(186.48,607.91),(186.68,607.88),(186.89,607.89),(187.09,607.91),(187.30,607.89),(187.50,607.93),(187.71,607.96),(187.91,608.02),(188.12,607.98),(188.32,608.00),(188.53,607.96),(188.73,607.98),(188.94,607.93),(189.14,607.96),(189.35,607.94),(189.55,607.98),(189.76,607.91),(189.96,607.87),(190.17,607.89),(190.37,607.93),(190.57,607.91),(190.78,607.96),(190.98,607.89),(191.19,607.91),(191.39,607.93),(191.60,607.90),(191.80,607.93),(192.01,607.91),(192.21,607.89),(192.42,607.93),(192.62,607.91),(192.83,607.93),(193.03,607.96),(193.24,607.93),(193.44,607.91),(193.65,607.96),(193.85,607.98),(194.06,608.06),(194.26,607.96),(194.47,607.93),(194.67,608.02),(194.88,607.93),(195.08,607.98),(195.29,607.96),(195.49,608.00),(195.69,607.93),(195.90,607.91),(196.10,607.90),(196.31,607.93),(196.51,607.89),(196.72,607.91),(196.92,607.87),(197.13,607.85),(197.33,607.87),(197.54,607.82),(197.74,607.85),(197.95,607.89),(198.15,607.93),(198.36,607.98),(198.56,607.91),(198.77,607.89),(198.97,607.87),(199.18,607.89),(199.38,607.85),(199.59,607.87),(199.79,607.91),(200.00,607.89),(200.20,607.87),(200.41,607.91),(200.61,607.93),(200.82,607.89),(201.02,607.87),(201.23,607.93),(201.43,607.87),(201.63,607.85),(201.84,607.91),(202.04,607.93),(202.25,607.91),(202.45,607.87),(202.66,607.89),(202.86,607.93),(203.07,607.89),(203.27,607.87),(203.48,607.82),(203.68,607.93),(203.89,608.04),(204.09,608.09),(204.30,608.00),(204.40,608.24),(204.50,608.04),(204.71,607.98),(204.91,607.93),(205.12,608.00),(205.32,607.96),(205.53,607.98),(205.73,607.93),(205.94,607.87),(206.14,607.85),(206.35,607.93),(206.55,607.87),(206.76,607.98),(206.96,607.93),(207.17,607.96),(207.37,607.91),(207.57,607.85),(207.78,607.93),(207.98,607.87),(208.19,607.82),(208.39,607.91),(208.60,608.02),(208.80,607.98),(209.01,608.06),(209.21,608.09),(209.42,607.98),(209.62,608.04),(209.83,608.02),(210.03,608.04),(210.24,608.09),(210.44,608.04),(210.65,608.00),(210.85,608.04),(211.06,608.02),(211.26,608.00),(211.47,608.06),(211.67,608.04),(211.88,608.02),(212.08,608.01),(212.29,608.00),(212.49,607.93),(212.70,607.98),(212.90,607.96),(213.10,607.93),(213.31,607.91),(213.51,607.96),(213.72,607.87),(213.92,608.11),(214.13,608.15),(214.33,608.17),(214.54,608.13),(214.74,608.15),(214.95,608.13),(215.15,608.15),(215.36,608.17),(215.56,608.15),(215.77,608.13),(215.97,608.11),(216.18,608.15),(216.38,608.20),(216.59,608.17),(216.79,608.15),(217.00,608.17),(217.20,608.20),(217.41,608.15),(217.61,608.20),(217.81,608.22),(218.02,608.20),(218.22,608.22),(218.43,608.20),(218.63,608.15),(218.84,608.20),(219.04,608.22),(219.25,608.15),(219.45,608.13),(219.66,608.17),(219.86,608.15),(220.07,608.13),(220.27,608.20),(220.48,608.17),(220.68,608.15),(220.89,608.13),(221.09,608.15),(221.30,608.13),
]

weir_elevation = 608.3
tick_dates = ["2019-04-01", "2019-05-01", "2019-05-31", "2019-06-30",
              "2019-07-30", "2019-08-29", "2019-09-28", "2019-10-28"]
tick_labels = ["4/1/19", "5/1/19", "5/31/19", "6/30/19",
               "7/30/19", "8/29/19", "9/28/19", "10/28/19"]

# ---------------- figure ----------------
t0 = pd.Timestamp(START)


def to_xy(readings):
    days = [d for d, _ in readings]
    vals = [v for _, v in readings]
    return t0 + pd.to_timedelta(days, unit="D"), vals


FONT = "Liberation Sans, Arial, sans-serif"
# plot area: x 159..1611 px, y 76..1123 px
PL, PW, PB, PH = 159.0, 1452.0, 1123.0, 1047.0


def px(x):
    return (x - PL) / PW


def py(y):
    return (PB - y) / PH


fig = go.Figure()
series = [
    ("PZ-7s (shallow)", pz7s_shallow, "#4A7EBB", 2.2, "legend", 522),
    ("PZ-7s2 (upland)", pz7s2_upland, "#BE4B48", 2.2, "legend2", 763),
    ("Lake Level", lake_level, "#C3D6EE", 3.0, "legend3", 1008),
]
legend_layout = {}
for name, data, color, w, leg, lx in series:
    x, y = to_xy(data)
    fig.add_trace(go.Scatter(x=x, y=y, mode="lines", name=name, legend=leg,
                             line=dict(color=color, width=w)))
    legend_layout[leg] = dict(orientation="h", x=px(lx), xanchor="left",
                              y=py(24.5), yanchor="middle",
                              bgcolor="rgba(0,0,0,0)", borderwidth=0,
                              itemwidth=45,
                              font=dict(size=23.5, family=FONT, color="black"))

x_end = t0 + pd.Timedelta(days=223.04)
xr = [t0, x_end]
DAY_MS = 86400000

fig.update_layout(
    width=1611, height=1212,
    margin=dict(l=159, r=0, t=76, b=89),
    paper_bgcolor="white", plot_bgcolor="white",
    font=dict(family=FONT, color="black", size=26),
    showlegend=True,
    **legend_layout,
    xaxis=dict(type="date", range=xr, tickvals=tick_dates, ticktext=tick_labels,
               ticks="outside", ticklen=7, tickwidth=1, tickcolor="black",
               showline=True, linewidth=2, linecolor="black", mirror=True,
               showgrid=False, zeroline=False, ticklabelstandoff=0,
               tickfont=dict(size=26, family=FONT),
               minor=dict(ticks="inside", ticklen=6, tickwidth=1, tickcolor="black",
                          dtick=10 * DAY_MS, tick0=START, showgrid=False)),
    xaxis2=dict(type="date", range=xr, overlaying="x", anchor="y", side="bottom",
                tickvals=tick_dates, ticks="inside", ticklen=5, tickwidth=1,
                tickcolor="black", showticklabels=False, showline=False,
                showgrid=False, zeroline=False),
    yaxis=dict(range=[607, 611], dtick=1, tick0=607, tickformat=".1f",
               ticks="outside", ticklen=7, tickwidth=1, tickcolor="black",
               showline=True, linewidth=2, linecolor="black",
               showgrid=True, gridcolor="#D9D9D9", gridwidth=1.5, zeroline=False,
               ticklabelstandoff=8, tickfont=dict(size=26, family=FONT),
               minor=dict(ticks="outside", ticklen=6, tickwidth=1, tickcolor="black",
                          dtick=0.1, showgrid=False)),
    yaxis2=dict(range=[607, 611], overlaying="y", anchor="x", side="left",
                dtick=1, ticks="", showticklabels=False, showline=False,
                showgrid=False, zeroline=False,
                minor=dict(ticks="inside", ticklen=6, tickwidth=1, tickcolor="black",
                           dtick=0.1, showgrid=False)),
)

# legend frame
fig.add_shape(type="rect", xref="paper", yref="paper",
              x0=px(498), x1=px(1198), y0=py(44), y1=py(5),
              line=dict(color="black", width=1), fillcolor="rgba(0,0,0,0)")

# weir elevation reference line
fig.add_shape(type="line", xref="paper", x0=0.006, x1=1, yref="y",
              y0=weir_elevation, y1=weir_elevation,
              line=dict(color="black", width=2.5, dash="22px,10px"))

# arrow to weir line
fig.add_annotation(xref="paper", yref="paper", x=px(300), y=py(796),
                   ax=-2, ay=126, axref="pixel", ayref="pixel",
                   text="", showarrow=True, arrowhead=2, arrowsize=1.1,
                   arrowwidth=1.6, arrowcolor="black")
fig.add_annotation(xref="paper", yref="paper", x=px(269), y=py(925),
                   xanchor="left", yanchor="top", align="left", showarrow=False,
                   text=("North Outlet Weirs Elevation =<br>"
                         "608.3 (East Side) (<i>Adjusted to</i><br>"
                         "<i>match 2019 survey updates</i>)"),
                   font=dict(size=23.7, family=FONT, color="black"))

# axis titles
fig.add_annotation(xref="paper", yref="paper", x=px(23), y=py(529), textangle=-90,
                   text="<b>Elevation (ft)</b>", showarrow=False,
                   xanchor="center", yanchor="middle",
                   font=dict(size=25.5, family=FONT, color="black"))
fig.add_annotation(xref="paper", yref="paper", x=px(923), y=py(1197),
                   text="<b>Date/Time</b>", showarrow=False,
                   xanchor="center", yanchor="middle",
                   font=dict(size=25.5, family=FONT, color="black"))

# logo text (cropped at the figure edge, as in the original)
fig.add_annotation(xref="paper", yref="paper", x=px(1340), y=py(1180),
                   xanchor="left", yanchor="top", showarrow=False,
                   text="<b>KIESER&amp;ASSOCIATES</b>",
                   font=dict(size=33, family="Liberation Serif, Times New Roman, serif",
                             color="#1F497D"))

fig.write_html("out.html")
